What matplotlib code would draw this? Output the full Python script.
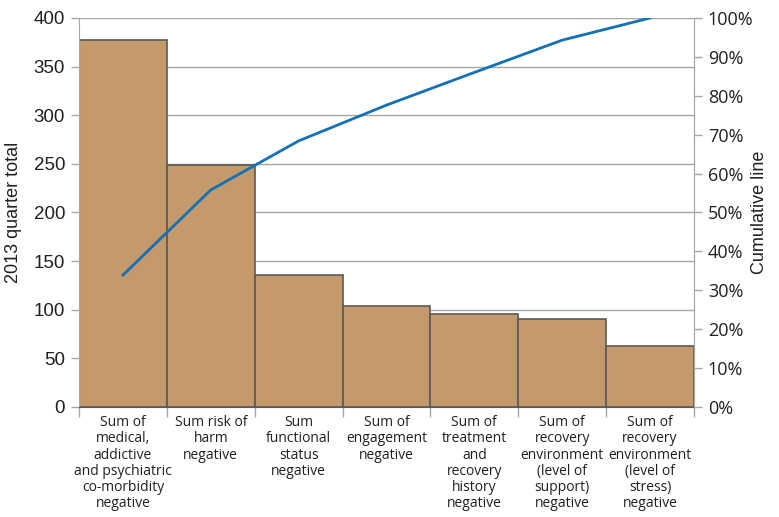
import matplotlib
matplotlib.use('agg')
import matplotlib.pyplot as plt
import numpy as np

categories = [
    'Sum of\nmedical,\naddictive\nand psychiatric\nco-morbidity\nnegative',
    'Sum risk of\nharm\nnegative',
    'Sum\nfunctional\nstatus\nnegative',
    'Sum of\nengagement\nnegative',
    'Sum of\ntreatment\nand\nrecovery\nhistory\nnegative',
    'Sum of\nrecovery\nenvironment\n(level of\nsupport)\nnegative',
    'Sum of\nrecovery\nenvironment\n(level of\nstress)\nnegative',
]
totals = [377, 249, 136, 104, 96, 90, 63]
cumulative_pct = [33.9, 55.8, 68.4, 77.6, 86.0, 94.3, 100.0]
left_ticks = [0, 50, 100, 150, 200, 250, 300, 350, 400]
right_ticks = [0, 10, 20, 30, 40, 50, 60, 70, 80, 90, 100]

bar_color = '#c4996b'
edge_color = '#5a5a5a'
line_color = '#1470b8'
grid_color = '#a6a6a6'
text_color = '#231f20'

fig = plt.figure(figsize=(7.79, 5.17), dpi=100)
ax = fig.add_axes([0.1014, 0.2128, 0.7894, 0.7524])
x = np.arange(len(totals))

ax.set_axisbelow(True)
ax.yaxis.grid(True, color=grid_color, linewidth=1)
ax.bar(x, totals, width=1.0, color=bar_color, edgecolor=edge_color, linewidth=1.2, zorder=2)
ax.set_xlim(-0.5, len(totals) - 0.5)
ax.set_ylim(0, 400)
ax.set_yticks(left_ticks)
ax.set_yticklabels([str(t) for t in left_ticks], fontsize=13.5, family='Liberation Sans', color=text_color)
ax.set_ylabel('2013 quarter total', fontsize=13, family='Liberation Sans', color=text_color, labelpad=8)

# category labels centred, ticks on the boundaries
ax.set_xticks(x)
ax.set_xticklabels(categories, fontsize=10, family='Open Sans', color=text_color, linespacing=1.1, va='top')
ax.tick_params(axis='x', which='major', length=0, pad=6)
ax.set_xticks(np.arange(-0.5, len(totals), 1.0), minor=True)
ax.tick_params(axis='x', which='minor', length=7, color=grid_color, width=1)
ax.tick_params(axis='y', length=6, color=grid_color, width=1, pad=4)

ax.spines['top'].set_visible(False)
for s in ['left', 'right']:
    ax.spines[s].set_color(grid_color)
ax.spines['bottom'].set_color(edge_color)

ax2 = ax.twinx()
ax2.plot(x, cumulative_pct, color=line_color, linewidth=2, zorder=3)
ax2.set_ylim(0, 100)
ax2.set_yticks(right_ticks)
ax2.set_yticklabels(['%d%%' % t for t in right_ticks], fontsize=13, family='Open Sans', color=text_color)
ax2.tick_params(axis='y', length=6, color=grid_color, width=1, pad=4)
ax2.set_ylabel('Cumulative line', fontsize=13, family='Liberation Sans', color=text_color, labelpad=-2)
for s in ['top', 'left', 'bottom']:
    ax2.spines[s].set_visible(False)
ax2.spines['right'].set_color(grid_color)

fig.savefig('out.png', dpi=100)
plt.close()
